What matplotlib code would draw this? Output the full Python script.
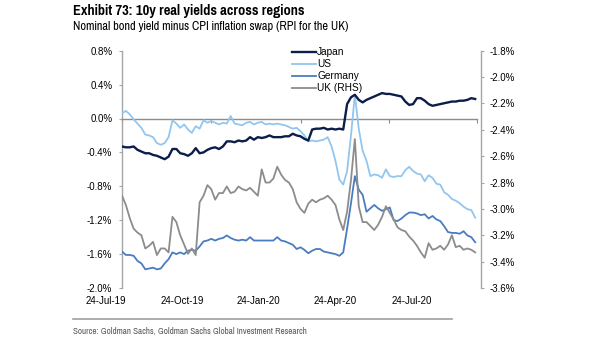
import matplotlib
matplotlib.use("Agg")
import matplotlib.pyplot as plt
import matplotlib.dates as mdates
from matplotlib import font_manager
import pandas as pd
import numpy as np

# ---------------- data ----------------
start_date = "2019-07-24"
end_date = "2020-07-24"
step = "4D"

us = [0.06, 0.09, 0.05, -0.01, -0.06, -0.11, -0.19, -0.20, -0.22, -0.29,
      -0.31, -0.29, -0.22, -0.02, -0.06, -0.11, -0.07, -0.13, -0.17, -0.09,
      -0.12, -0.02, -0.05, -0.03, -0.05, -0.07, -0.05, -0.06, 0.03, -0.06,
      -0.07, -0.08, -0.05, -0.04, -0.07, -0.05, -0.04, -0.07, -0.06, -0.07,
      -0.06, -0.07, -0.08, -0.10, -0.12, -0.11, -0.15, -0.20, -0.27, -0.26,
      -0.27, -0.26, -0.25, -0.22, -0.33, -0.50, -0.72, -0.78, -0.62, -0.20,
      0.28, -0.12, -0.38, -0.50, -0.68, -0.66, -0.67, -0.70, -0.60, -0.68,
      -0.69, -0.68, -0.68, -0.61, -0.57, -0.62, -0.65, -0.66, -0.74, -0.67,
      -0.70, -0.77, -0.78, -0.87, -0.90, -0.95, -0.97, -1.00, -1.04, -1.07,
      -1.08, -1.17]

japan = [-0.33, -0.34, -0.34, -0.33, -0.37, -0.39, -0.41, -0.41, -0.43, -0.44,
         -0.46, -0.48, -0.45, -0.36, -0.36, -0.41, -0.42, -0.44, -0.41, -0.35,
         -0.41, -0.40, -0.37, -0.35, -0.34, -0.36, -0.33, -0.27, -0.27, -0.28,
         -0.26, -0.27, -0.26, -0.22, -0.25, -0.22, -0.23, -0.22, -0.20, -0.22,
         -0.22, -0.22, -0.21, -0.21, -0.18, -0.20, -0.21, -0.24, -0.26, -0.13,
         -0.12, -0.12, -0.11, -0.13, -0.12, -0.13, -0.12, -0.13, 0.17, 0.25,
         0.28, 0.22, 0.19, 0.22, 0.24, 0.26, 0.28, 0.30, 0.29, 0.29,
         0.28, 0.27, 0.26, 0.20, 0.16, 0.17, 0.24, 0.24, 0.21, 0.17,
         0.15, 0.16, 0.17, 0.18, 0.19, 0.20, 0.20, 0.21, 0.21, 0.22,
         0.24, 0.23]

germany = [-1.57, -1.61, -1.61, -1.62, -1.68, -1.71, -1.78, -1.77, -1.76, -1.78,
           -1.77, -1.71, -1.66, -1.58, -1.60, -1.58, -1.60, -1.56, -1.55, -1.56,
           -1.51, -1.45, -1.44, -1.42, -1.44, -1.42, -1.41, -1.38, -1.41, -1.43,
           -1.44, -1.43, -1.44, -1.40, -1.44, -1.44, -1.44, -1.44, -1.44, -1.44,
           -1.40, -1.44, -1.45, -1.47, -1.49, -1.54, -1.52, -1.55, -1.59, -1.56,
           -1.54, -1.54, -1.57, -1.58, -1.59, -1.60, -1.62, -1.58, -1.30, -1.00,
           -0.68, -0.84, -0.90, -1.10, -1.06, -1.02, -1.06, -1.09, -1.07, -1.05,
           -1.20, -1.21, -1.18, -1.14, -1.11, -1.11, -1.12, -1.14, -1.13, -1.18,
           -1.15, -1.19, -1.21, -1.27, -1.34, -1.35, -1.35, -1.36, -1.33, -1.38,
           -1.40, -1.46]

uk = [-2.90, -2.97, -3.07, -3.15, -3.18, -3.20, -3.30, -3.28, -3.25, -3.35,
      -3.30, -3.30, -3.33, -3.06, -3.10, -3.20, -3.27, -3.34, -3.30, -3.35,
      -2.95, -2.90, -2.82, -2.85, -2.93, -2.88, -2.88, -2.83, -2.88, -2.87,
      -2.83, -2.85, -2.86, -2.84, -2.87, -2.90, -2.70, -2.80, -2.80, -2.77,
      -2.68, -2.74, -2.78, -2.80, -2.85, -2.95, -3.00, -3.03, -2.96, -2.93,
      -2.95, -2.93, -2.92, -2.90, -2.93, -2.97, -3.08, -3.16, -3.02, -2.78,
      -2.47, -2.98, -3.10, -3.10, -3.13, -3.16, -3.12, -3.06, -2.98, -3.03,
      -3.08, -3.14, -3.16, -3.17, -3.21, -3.24, -3.28, -3.33, -3.37, -3.26,
      -3.31, -3.30, -3.28, -3.31, -3.27, -3.20, -3.29, -3.28, -3.31, -3.30,
      -3.31, -3.33]

series_names = ["Japan", "US", "Germany", "UK (RHS)"]
x_labels = ["24-Jul-19", "24-Oct-19", "24-Jan-20", "24-Apr-20", "24-Jul-20"]
quarter_ticks = ["2019-07-24", "2019-10-24", "2020-01-24", "2020-04-24", "2020-07-24"]
left_ticks = [0.8, 0.4, 0.0, -0.4, -0.8, -1.2, -1.6, -2.0]
right_ticks = [-1.8, -2.0, -2.2, -2.4, -2.6, -2.8, -3.0, -3.2, -3.4, -3.6]

title = "Exhibit 73: 10y real yields across regions"
subtitle = "Nominal bond yield minus CPI inflation swap (RPI for the UK)"
source = "Source: Goldman Sachs, Goldman Sachs Global Investment Research"

# ---------------- style ----------------
c_japan = "#0b1d48"
c_us = "#93c6ee"
c_ger = "#4a7cc0"
c_uk = "#8c8c8c"
c_axis = "#a6a6a6"

sans = ["Liberation Sans", "DejaVu Sans"]

# pick a condensed face if one exists
def find_condensed(bold):
    best = None
    for f in font_manager.fontManager.ttflist:
        name = (f.name + " " + f.fname).lower()
        if ("narrow" in name or "condensed" in name) and ("italic" not in name and "oblique" not in name):
            isbold = (f.weight in ("bold", 700) or "bold" in f.fname.lower())
            if isbold == bold:
                if best is None or "narrow" in name:
                    best = f.fname
    return best

cond_bold = find_condensed(True)
cond_reg = find_condensed(False)

def fp(path, size, fallback_weight="normal"):
    if path:
        return font_manager.FontProperties(fname=path, size=size)
    return font_manager.FontProperties(family="DejaVu Sans", size=size * 0.8,
                                       weight=fallback_weight)

dates = pd.date_range(start_date, end_date, freq=step)

fig = plt.figure(figsize=(6.05, 3.41), dpi=100)
ax = fig.add_axes([122 / 605, 1 - 288 / 341, 359 / 605, 237.3 / 341])
ax2 = ax.twinx()

l_jp, = ax.plot(dates, japan, color=c_japan, lw=1.7, zorder=5)
l_us, = ax.plot(dates, us, color=c_us, lw=1.3, zorder=4)
l_de, = ax.plot(dates, germany, color=c_ger, lw=1.3, zorder=4)
l_uk, = ax2.plot(dates, uk, color=c_uk, lw=1.3)

x0 = pd.Timestamp(start_date)
x_end = pd.Timestamp(end_date)
ax.set_xlim(x0, x_end + pd.Timedelta(days=4))
ax.set_ylim(-2.0, 0.8)
ax2.set_ylim(-3.6, -1.8)

# zero line acting as x axis
ax.spines["bottom"].set_position(("data", 0))
ax.spines["bottom"].set_bounds(mdates.date2num(x0), mdates.date2num(x_end))
ax.spines["bottom"].set_color(c_uk)
ax.spines["bottom"].set_linewidth(1.0)
ax.set_xticks(pd.to_datetime(quarter_ticks))
ax.tick_params(axis="x", direction="out", length=3, width=0.8, color=c_uk,
               labelbottom=False)

for s in ["top", "right"]:
    ax.spines[s].set_visible(False)
for s in ["top", "left", "bottom"]:
    ax2.spines[s].set_visible(False)
ax.spines["left"].set_color(c_axis)
ax.spines["left"].set_linewidth(1.0)
ax2.spines["right"].set_color(c_axis)
ax2.spines["right"].set_linewidth(1.0)

ax.set_yticks(left_ticks)
ax.set_yticklabels([f"{v:.1f}%" for v in left_ticks], fontsize=7, family=sans)
ax.tick_params(axis="y", direction="out", length=2.5, width=0.8, color=c_axis, pad=4.5)
ax2.set_yticks(right_ticks)
ax2.set_yticklabels([f"{v:.1f}%" for v in right_ticks], fontsize=7, family=sans)
ax2.tick_params(axis="y", direction="out", length=2.5, width=0.8, color=c_axis, pad=3.5)
ax2.xaxis.set_visible(False)

# bottom date labels (Excel-style offset positions)
lab_start, lab_step = -0.045, 0.2131
for i, lab in enumerate(x_labels):
    ax.text(lab_start + i * lab_step, -0.055, lab, transform=ax.transAxes,
            ha="center", va="center", fontsize=7, family=sans)

leg = ax2.legend([l_jp, l_us, l_de, l_uk], series_names, loc="upper left",
                 bbox_to_anchor=(0.455, 1.045), frameon=False,
                 handlelength=2.3, handletextpad=0.15, labelspacing=0.2,
                 borderpad=0.2, prop={"family": sans, "size": 7.3})

fig.text(73 / 605, 1 - 10.5 / 341, title, fontproperties=fp(cond_bold, 11.3, "bold"),
         fontweight="bold", ha="left", va="center")
fig.text(73 / 605, 1 - 27 / 341, subtitle, fontproperties=fp(cond_reg, 9.7),
         ha="left", va="center")
fig.add_artist(plt.Line2D([73 / 605, 452 / 605], [1 - 319 / 341, 1 - 319 / 341],
                          color="#a0a0a0", lw=1.2, transform=fig.transFigure))
fig.text(73 / 605, 1 - 331 / 341, source, fontproperties=fp(cond_reg, 7.1),
         color="#595959", ha="left", va="center")

fig.savefig("out.png", dpi=100)
